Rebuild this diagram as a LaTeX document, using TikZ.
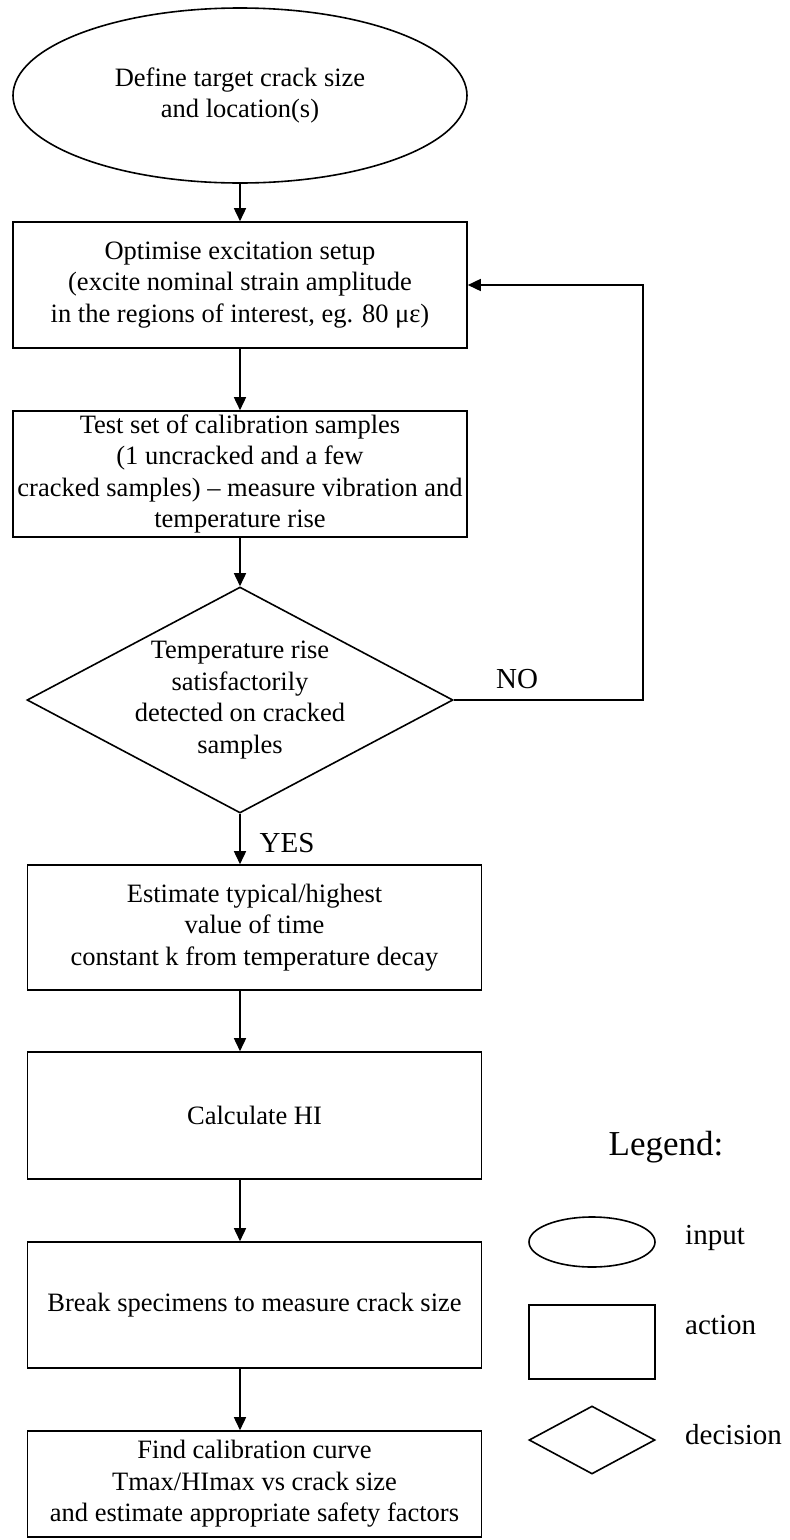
\documentclass[tikz,border=0pt]{standalone}
\usepackage{fontspec}
\setmainfont{Liberation Serif}
\usetikzlibrary{shapes.geometric,arrows.meta}
\newcommand\flowtext{\fontsize{26.5}{31.5}\selectfont}
\newcommand\labeltext{\fontsize{29}{33}\selectfont}
\newcommand\legendtitle{\fontsize{35}{40}\selectfont}
\tikzset{
  line/.style={line width=1.6pt, draw=black},
  arr/.style={line, -{Triangle[length=13pt,width=12pt]}},
  actionbox/.style={line, rectangle, minimum width=454pt, inner sep=0pt, align=center, font=\flowtext},
  inputshape/.style={line, ellipse, inner sep=0pt, align=center, font=\flowtext},
  decisionshape/.style={line, diamond, inner sep=0pt},
  txt/.style={align=center, font=\flowtext, inner sep=0pt},
  lbl/.style={font=\labeltext, inner sep=0pt},
}
\begin{document}
\begin{tikzpicture}[x=1pt,y=-1pt]
\useasboundingbox (0,0) rectangle (790,1540);
\fill[white] (0,0) rectangle (790,1540);

% flow column
\coordinate (col) at (240,0);

% main flow
\node[inputshape, minimum width=454pt, minimum height=175pt] (start) at (240,95.5)
  {Define target crack size\\and location(s)};
\node[actionbox, minimum height=126pt] (setup) at (240,285)
  {Optimise excitation setup\\(excite nominal strain amplitude\\in the regions of interest, eg. 80 με)};
\node[actionbox, minimum height=126pt] (test) at (240,474)
  {Test set of calibration samples\\(1 uncracked and a few\\cracked samples) – measure vibration and\\temperature rise};
\node[decisionshape, minimum width=426pt, minimum height=226pt] (check) at (240,700) {};
\node[txt] (checktext) at (check.center)
  {Temperature rise\\satisfactorily\\detected on cracked\\samples};
\node[actionbox, minimum height=125pt] (decay) at (254.5,927.5)
  {Estimate typical/highest\\value of time\\constant k from temperature decay};
\node[actionbox, minimum height=127pt] (hi) at (254.5,1115.5) {Calculate HI};
\node[actionbox, minimum height=126pt] (brk) at (254.5,1305)
  {Break specimens to measure crack size};
\node[actionbox, minimum height=106pt] (calib) at (254.5,1484)
  {Find calibration curve\\Tmax/HImax vs crack size\\and estimate appropriate safety factors};

% connectors
\draw[arr] (start.south) -- (setup.north);
\draw[arr] (setup.south) -- (test.north);
\draw[arr] (test.south) -- (check.north);
\draw[arr] (check.south) -- (check.south |- decay.north);
\draw[arr] (decay.south -| col) -- (hi.north -| col);
\draw[arr] (hi.south -| col) -- (brk.north -| col);
\draw[arr] (brk.south -| col) -- (calib.north -| col);

% retry loop
\coordinate (loop) at (643,285);
\draw[arr] (check.east) -| (loop) -- (setup.east);
\node[lbl] (no) at (517,679) {NO};
\node[lbl] (yes) at (287,843) {YES};

% legend
\node[font=\legendtitle, inner sep=0pt] (legend) at (666,1147) {Legend:};
\node[inputshape, minimum width=126pt, minimum height=50pt] (leginput) at (592,1242) {};
\node[lbl, anchor=base west] (inputlbl) at (685,1244) {input};
\node[line, rectangle, minimum width=126pt, minimum height=74pt, inner sep=0pt] (legaction) at (592,1342) {};
\node[lbl, anchor=base west] (actionlbl) at (685,1334) {action};
\node[decisionshape, minimum width=126pt, minimum height=68pt] (legdecision) at (592,1440) {};
\node[lbl, anchor=base west] (decisionlbl) at (685,1444) {decision};
\end{tikzpicture}
\end{document}
